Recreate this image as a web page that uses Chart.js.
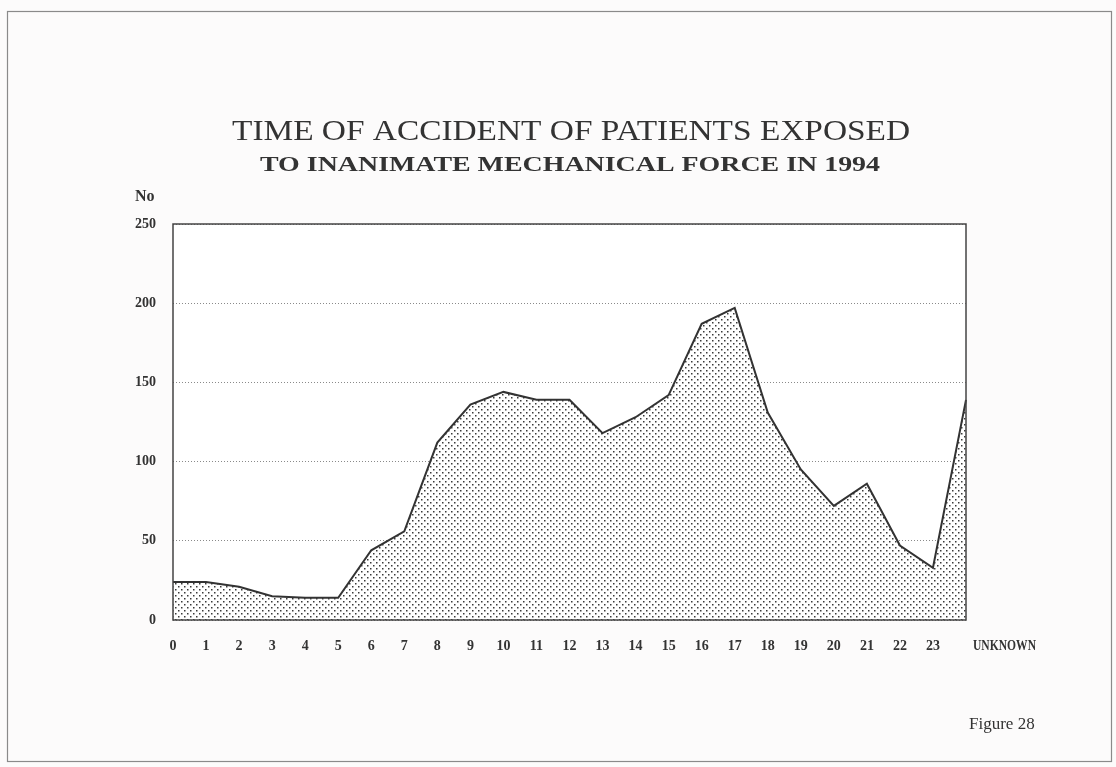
<!DOCTYPE html>
<html>
<head>
<meta charset="utf-8">
<script src="https://cdn.jsdelivr.net/npm/chart.js@4"></script>
<style>
html,body{margin:0;padding:0;background:#fcfbfb;}
canvas{display:block;}
</style>
</head>
<body>
<canvas id="c" width="1116" height="767"></canvas>
<script>
const categories = ['0','1','2','3','4','5','6','7','8','9','10','11','12','13','14','15','16','17','18','19','20','21','22','23','UNKNOWN'];
const patients = [24,24,21,15,14,14,44,56,112,136,144,139,139,118,128,142,187,197,131,95,72,86,47,33,139];
const yTicks = [0,50,100,150,200,250];
const titleLine1 = 'TIME OF ACCIDENT OF PATIENTS EXPOSED';
const titleLine2 = 'TO INANIMATE MECHANICAL FORCE IN 1994';
const yAxisTitle = 'No';
const figureLabel = 'Figure 28';

const SERIF = '"Liberation Serif", "DejaVu Serif", serif';
const LAST = categories.length - 1;

function dotPattern(ctx){
  const p = document.createElement('canvas');
  p.width = 6; p.height = 6;
  const g = p.getContext('2d');
  g.fillStyle = '#ffffff';
  g.fillRect(0,0,6,6);
  g.fillStyle = '#3a3a3a';
  g.fillRect(1,1,1.5,1.5);
  g.fillRect(4,4,1.5,1.5);
  return ctx.createPattern(p,'repeat');
}

function stretchedText(ctx, text, x, baseline, font, targetW, align){
  ctx.save();
  ctx.font = font;
  const w = ctx.measureText(text).width;
  const s = targetW / w;
  ctx.translate(x, baseline);
  ctx.scale(s, 1);
  ctx.textAlign = align || 'center';
  ctx.fillText(text, 0, 0);
  ctx.restore();
}

const decor = {
  id:'decor',
  beforeDraw(chart){
    const {ctx, chartArea:a} = chart;
    ctx.save();
    ctx.fillStyle = '#fcfbfb';
    ctx.fillRect(0,0,chart.width,chart.height);
    ctx.strokeStyle = '#8a8a8a';
    ctx.lineWidth = 1.2;
    ctx.strokeRect(7.5,11.5,1104,750);
    ctx.fillStyle = '#ffffff';
    ctx.fillRect(a.left,a.top,a.right-a.left,a.bottom-a.top);
    ctx.restore();
  },
  afterDraw(chart){
    const {ctx, chartArea:a} = chart;
    const xs = chart.scales.x;
    ctx.save();
    ctx.strokeStyle = '#444';
    ctx.lineWidth = 1.5;
    ctx.strokeRect(a.left,a.top,a.right-a.left,a.bottom-a.top);
    ctx.fillStyle = '#333';
    ctx.textBaseline = 'alphabetic';
    stretchedText(ctx, titleLine1, 571, 140, '30px ' + SERIF, 678);
    stretchedText(ctx, titleLine2, 570, 171, 'bold 22px ' + SERIF, 620);
    ctx.textAlign = 'left';
    ctx.font = 'bold 16px ' + SERIF;
    ctx.fillText(yAxisTitle, 135, 201);
    ctx.font = '17px ' + SERIF;
    ctx.fillText(figureLabel, 969, 729);
    // last category label, left-aligned next to its tick
    ctx.textBaseline = 'middle';
    stretchedText(ctx, categories[LAST], xs.getPixelForValue(LAST) + 7, 646, 'bold 14px ' + SERIF, 63, 'left');
    ctx.restore();
  }
};

const ctx = document.getElementById('c').getContext('2d');
new Chart(ctx, {
  type:'line',
  data:{
    labels: categories,
    datasets:[{
      data: patients,
      borderColor:'#333',
      borderWidth:2,
      backgroundColor: dotPattern(ctx),
      fill:'origin',
      pointRadius:0,
      tension:0
    }]
  },
  options:{
    responsive:false,
    animation:false,
    layout:{padding:{left:100,right:150,top:224,bottom:107}},
    plugins:{legend:{display:false},title:{display:false},tooltip:{enabled:false}},
    scales:{
      x:{
        type:'category',
        offset:false,
        grid:{display:false, drawTicks:false},
        border:{display:false},
        ticks:{color:'#333',font:{family:SERIF,size:14,weight:'bold'},padding:18,maxRotation:0,autoSkip:false,
          callback(v,i){ return i === LAST ? '' : categories[i]; }},
        afterFit(s){ s.height = 40; }
      },
      y:{
        min:0,max:250,
        afterBuildTicks(s){ s.ticks = yTicks.map(v=>({value:v})); },
        grid:{color:'#8a8a8a',lineWidth:1,drawTicks:false},
        border:{display:false, dash:[1,2]},
        ticks:{color:'#333',font:{family:SERIF,size:14,weight:'bold'},padding:17},
        afterFit(s){ s.width = 73; }
      }
    }
  },
  plugins:[decor]
});
</script>
</body>
</html>
